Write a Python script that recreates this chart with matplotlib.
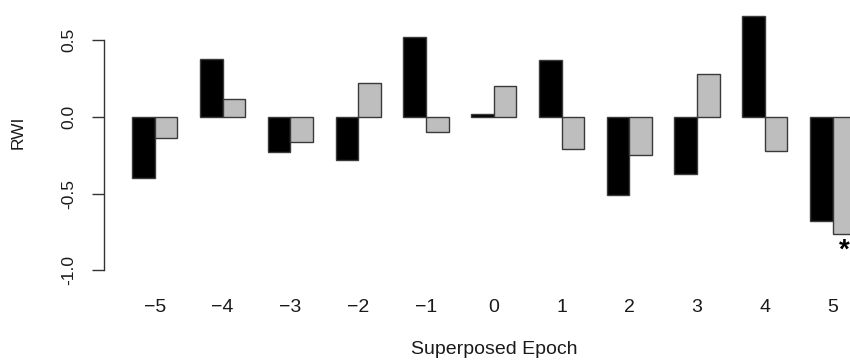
import matplotlib
matplotlib.use("Agg")
import matplotlib.pyplot as plt
import numpy as np

epochs = ["\u22125", "\u22124", "\u22123", "\u22122", "\u22121", "0", "1", "2", "3", "4", "5"]
series_black = [-0.40, 0.38, -0.23, -0.28, 0.52, 0.02, 0.37, -0.51, -0.37, 0.66, -0.68]
series_gray = [-0.14, 0.12, -0.16, 0.22, -0.10, 0.20, -0.21, -0.25, 0.28, -0.22, -0.76]
star_epoch_index = 10
star_value = -0.87
yticks = [-1.0, -0.5, 0.0, 0.5]
ytick_labels = ["-1.0", "-0.5", "0.0", "0.5"]

plt.rcParams['font.family'] = ['Liberation Sans', 'DejaVu Sans']

W, H = 850, 360
fig = plt.figure(figsize=(W / 100, H / 100), dpi=100)

# pixel geometry
left_px, right_px = 104, 850
top_px, bot_px = 5, 285
ax = fig.add_axes([left_px / W, 1 - bot_px / H, (right_px - left_px) / W, (bot_px - top_px) / H])

ppu_y = 153.5
y0_px = 117
ax.set_ylim(-(bot_px - y0_px) / ppu_y, (y0_px - top_px) / ppu_y)

ppu_x = 22.59
x0_px = 109.7
ax.set_xlim((left_px - x0_px) / ppu_x, (right_px - x0_px) / ppu_x)

n = len(epochs)
idx = np.arange(n)
black_x = 3 * idx + 1
gray_x = 3 * idx + 2
ax.bar(black_x, series_black, width=1.0, align='edge', color='black',
       edgecolor='#3a3a3a', linewidth=1.0)
ax.bar(gray_x, series_gray, width=1.0, align='edge', color='#bebebe',
       edgecolor='#3a3a3a', linewidth=1.0)

ax.text(3 * star_epoch_index + 2.5, star_value, "*", ha='center', va='center',
        fontsize=20, fontweight='bold', color='black')

for s in ['top', 'right', 'bottom']:
    ax.spines[s].set_visible(False)
ax.spines['left'].set_bounds(-1.0, 0.5)
ax.spines['left'].set_color('#333333')
ax.spines['left'].set_linewidth(1.0)

ax.set_yticks(yticks)
ax.set_yticklabels(ytick_labels, rotation=90, va='center', fontsize=12.5, color='#1a1a1a')
ax.tick_params(axis='y', length=9, width=1.0, color='#333333', pad=11)

ax.set_xticks(3 * idx + 2)
ax.set_xticklabels(epochs, fontsize=14, color='#1a1a1a')
ax.tick_params(axis='x', length=0, pad=10)

fig.text(494 / W, 1 - 350 / H, "Superposed Epoch", ha='center', va='center',
         fontsize=14, color='#1a1a1a')
fig.text(18 / W, 1 - 132 / H, "RWI", ha='center', va='center', rotation=90,
         fontsize=12.5, color='#1a1a1a')

fig.savefig("out.png", dpi=100)
